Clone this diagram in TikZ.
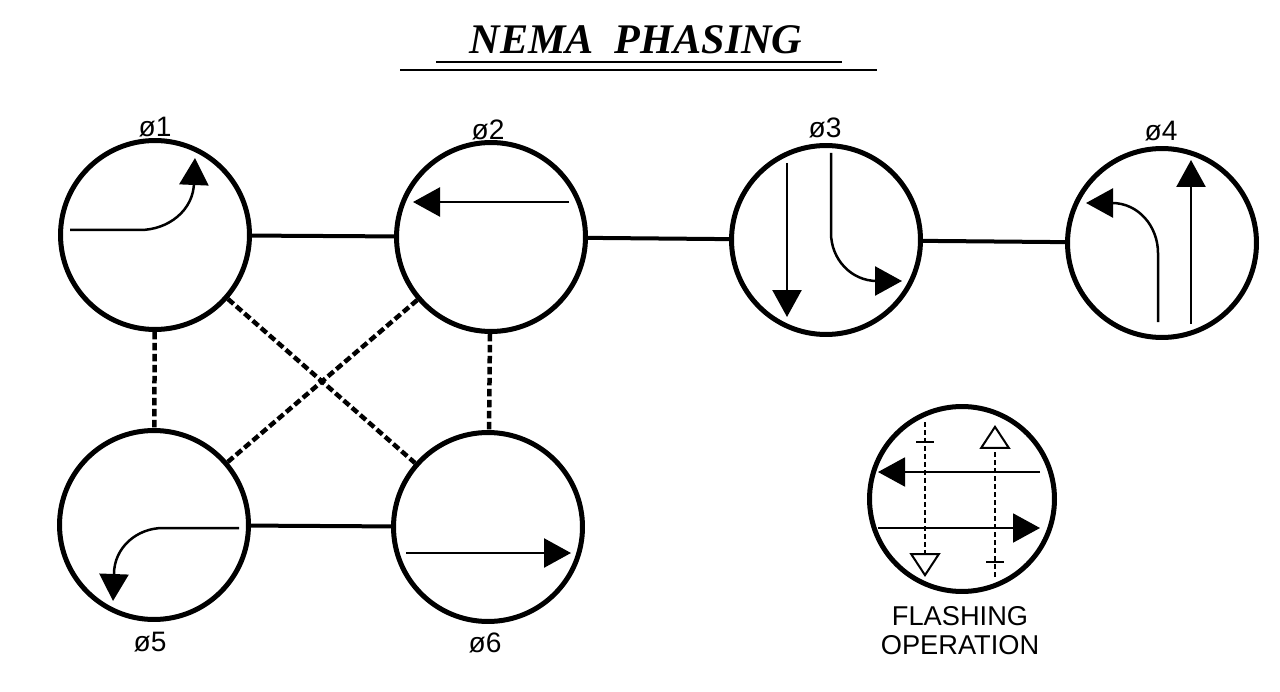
\documentclass[tikz,border=0pt]{standalone}
\usepackage{fontspec}
\setmainfont{Liberation Sans}
\newfontfamily\titlefont{Liberation Serif}
\usetikzlibrary{arrows.meta,positioning}
\tikzset{phasecircle/.style={circle,draw,line width=0.1cm,minimum size=3.78cm,inner sep=0pt},
 phaselink/.style={line width=0.08cm},
 phasedash/.style={line width=0.09cm,dash pattern=on 0.15cm off 0.07cm},
 movearrow/.style={line width=0.05cm,-{Triangle[length=0.54cm,width=0.58cm]}},
 flasharrow/.style={line width=0.04cm,dash pattern=on 0.1cm off 0.06cm,-{Triangle[open,length=0.48cm,width=0.62cm]}},
 phaselabel/.style={font=\fontsize{16}{17}\selectfont,inner sep=0pt,align=center}}

\begin{document}
\begin{tikzpicture}[x=0.02cm,y=-0.02cm]
\useasboundingbox (0,0) rectangle (1280,692);
% title
\node[inner sep=0pt,font=\titlefont\bfseries\itshape\fontsize{24}{28}\selectfont] (title) at (636,40) {NEMA\ \ PHASING};
\draw[line width=0.045cm] (436,62) -- (842,62);
\draw[line width=0.045cm] (400,70) -- (877,70);
% phases
\node[phasecircle] (p1) at (155,235) {};
\node[phasecircle] (p2) at (491,237) {};
\node[phasecircle] (p3) at (826,240) {};
\node[phasecircle] (p4) at (1162,243) {};
\node[phasecircle] (p5) at (154,525) {};
\node[phasecircle] (p6) at (488,527) {};
\node[phasecircle,minimum size=3.7cm] (flash) at (962,499) {};
\node[phaselabel] (l1) at (155,127) {ø1};
\node[phaselabel] (l2) at (488,130) {ø2};
\node[phaselabel] (l3) at (825,128) {ø3};
\node[phaselabel] (l4) at (1161,131) {ø4};
\node[phaselabel] (l5) at (150,642) {ø5};
\node[phaselabel] (l6) at (485,643) {ø6};
\node[phaselabel,font=\fontsize{15.5}{16.5}\selectfont] (flashtext) at (960,631) {FLASHING\\OPERATION};
% links
\draw[phaselink] (p1) -- (p2);
\draw[phaselink] (p2) -- (p3);
\draw[phaselink] (p3) -- (p4);
\draw[phaselink] (p5) -- (p6);
\draw[phasedash] (p1) -- (p5);
\draw[phasedash] (p2) -- (p6);
\draw[phasedash] (p1) -- (p6);
\draw[phasedash] (p2) -- (p5);
% movements
\draw[movearrow] (70,230) -- (140,230) to[out=0,in=-90] (194,182) -- (195,158);
\draw[movearrow] (569,202) -- (413,202);
\draw[movearrow] (787,163) -- (787,317);
\draw[movearrow] (831,153) -- (831,233) to[out=-90,in=180] (877,281) -- (902,281);
\draw[movearrow] (1191,324) -- (1191,160);
\draw[movearrow] (1158,322) -- (1158,253) to[out=90,in=0] (1112,203) -- (1086,203);
\draw[movearrow] (239,528) -- (163,528) to[out=180,in=90] (114,574) -- (113,601);
\draw[movearrow] (406,553) -- (571,553);
% flashing
\draw[movearrow,line width=0.04cm] (1040,472) -- (878,472);
\draw[movearrow,line width=0.04cm] (878,528) -- (1040,528);
\draw[flasharrow] (925,422) -- (925,577);
\draw[flasharrow] (995,577) -- (995,425);
\draw[line width=0.04cm] (916,442) -- (934,442);
\draw[line width=0.04cm] (986,562) -- (1004,562);
\end{tikzpicture}
\end{document}
